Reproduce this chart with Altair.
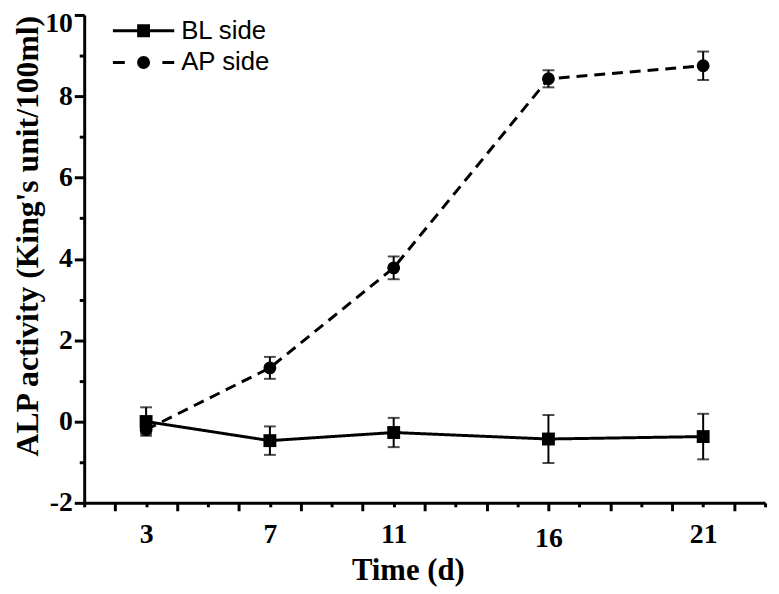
import json
import altair as alt
import pandas as pd

# ---- data ----
days = [3, 7, 11, 16, 21]
series_names = ["BL side", "AP side"]
bl_mean = [0.0, -0.47, -0.27, -0.43, -0.37]
bl_err = [0.35, 0.35, 0.36, 0.59, 0.56]
ap_mean = [-0.2, 1.32, 3.78, 8.43, 8.75]
ap_err = [0.10, 0.27, 0.28, 0.21, 0.35]
x_tick_labels = [3, 7, 11, 16, 21]
x_ticks = list(range(1, 24))
y_ticks = list(range(-2, 11))

rows = []
for name, means, errs in [(series_names[0], bl_mean, bl_err),
                          (series_names[1], ap_mean, ap_err)]:
    for d, m, e in zip(days, means, errs):
        rows.append({"day": d, "value": m, "lo": m - e, "hi": m + e, "series": name})
df = pd.DataFrame(rows)

x_scale = alt.Scale(domain=[1, 23], nice=False, zero=False)
y_scale = alt.Scale(domain=[-2, 10], nice=False, zero=False)

serif = "Liberation Serif"

x_axis = alt.Axis(
    values=x_ticks,
    labelExpr=f"indexof({json.dumps(x_tick_labels)}, datum.value) >= 0 ? '' + datum.value : ''",
    tickSize={"condition": {"test": "datum.value % 2 == 0", "value": 8}, "value": 4},
    labelOverlap=False, labelFlush=False, grid=False,
    title="Time (d)", titleX=327, titleY=77, titleAnchor="middle", titleAlign="center",
    titleBaseline="alphabetic", labelPadding=14, titleFontSize=31,
)
y_axis = alt.Axis(
    values=y_ticks,
    labelExpr="datum.value % 2 == 0 ? '' + datum.value : ''",
    tickSize={"condition": {"test": "datum.value % 2 == 0", "value": 10}, "value": 5},
    labelOffset={"condition": {"test": "datum.value == 10", "value": 9}, "value": 0},
    labelOverlap=False, labelFlush=False, grid=False,
    title="ALP activity (King's unit/100ml)", titleX=-57, titleY=223, titleAngle=-90,
    titleAlign="center", titleBaseline="middle", labelPadding=2, titleFontSize=32,
)

base = alt.Chart(df)
X = alt.X("day:Q", scale=x_scale, axis=x_axis)
Y = alt.Y("value:Q", scale=y_scale, axis=y_axis)

err_rule = base.mark_rule(color="black", strokeWidth=2).encode(
    x=X, y=alt.Y("lo:Q", scale=y_scale), y2="hi:Q")
cap_hi = base.mark_tick(color="black", thickness=2, size=12, orient="horizontal").encode(
    x=X, y=alt.Y("hi:Q", scale=y_scale))
cap_lo = base.mark_tick(color="black", thickness=2, size=12, orient="horizontal").encode(
    x=X, y=alt.Y("lo:Q", scale=y_scale))

lines = base.mark_line(color="black", strokeWidth=3).encode(
    x=X, y=Y,
    strokeDash=alt.StrokeDash("series:N",
                              scale=alt.Scale(domain=series_names, range=[[1, 0], [11, 7]]),
                              legend=None),
)

points = base.mark_point(filled=True, opacity=1, size=170, color="black").encode(
    x=X, y=Y,
    shape=alt.Shape("series:N",
                    scale=alt.Scale(domain=series_names, range=["square", "circle"]),
                    legend=None),
)

# legend symbols: a filled line (or dashes) plus the marker, all as filled shapes
bl_path = ("M-3.1,-0.15H3.1V0.15H-3.1Z"
           "M-0.65,-0.65H0.65V0.65H-0.65Z")
ap_path = ("M-3.1,-0.15H-1.9V0.15H-3.1Z"
           "M1.9,-0.15H3.1V0.15H1.9Z"
           "M-0.65,0A0.65,0.65 0 1,1 0.65,0A0.65,0.65 0 1,1 -0.65,0Z")

legend_layer = base.transform_filter("false").mark_point(
    filled=True, color="black", opacity=1
).encode(
    x=X, y=Y,
    shape=alt.Shape("series:N",
                    scale=alt.Scale(domain=series_names, range=[bl_path, ap_path]),
                    legend=alt.Legend(
                        title=None, orient="none", legendX=47, legendY=3,
                        labelFont="Liberation Sans", labelFontSize=26, labelColor="black",
                        symbolSize=400, symbolFillColor="black", symbolOpacity=1,
                        symbolStrokeWidth=0,
                        labelOffset=25, rowPadding=6, padding=0,
                    )),
)

chart = alt.layer(err_rule, cap_hi, cap_lo, lines, points, legend_layer).resolve_scale(
    shape="independent"
).properties(
    width=688, height=493,
    autosize=alt.AutoSizeParams(type="none"),
    padding={"left": 77, "top": 4, "right": 6, "bottom": 82},
    background="white",
).configure_view(stroke=None).configure_axis(
    domainColor="black", domainWidth=3, tickColor="black", tickWidth=3,
    labelFont=serif, labelFontWeight="bold", labelFontSize=28, labelColor="black",
    titleFont=serif, titleFontWeight="bold", titleColor="black",
)

chart.save("out.html", embed_options={"renderer": "svg", "actions": False})
